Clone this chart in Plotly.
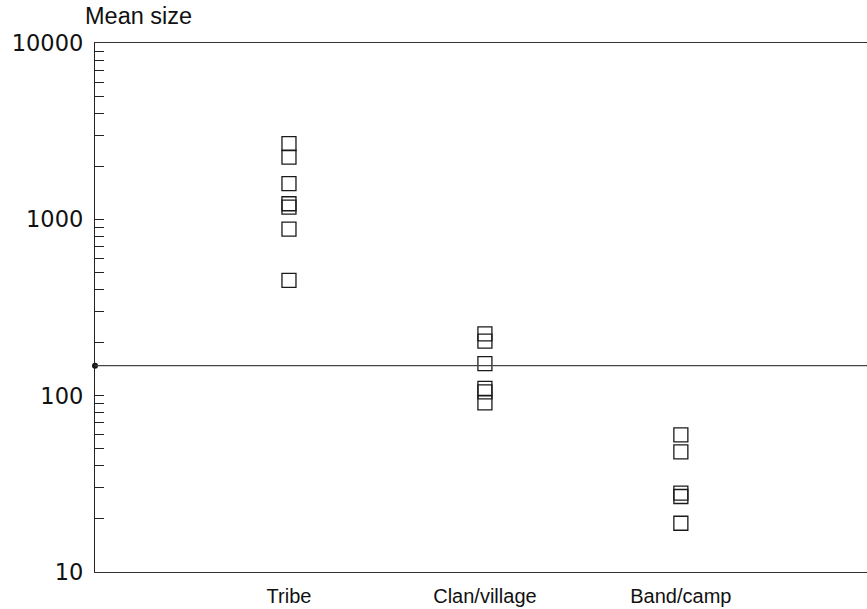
import plotly.graph_objects as go

# Group sizes by social level
categories = ["Tribe", "Clan/village", "Band/camp"]
tribe = [2685, 2256, 1592, 1226, 1172, 881, 451]
clan_village = [224, 204, 152, 110, 105, 91]
band_camp = [60, 48, 28, 26.8, 18.9]
dunbar = 148

y_decades = [10, 100, 1000, 10000]
y_ticks = [m * d for d in [10, 100, 1000] for m in range(1, 10)] + [10000]
y_ticktext = [str(v) if v in y_decades else "" for v in y_ticks]

x_range = [0.01, 3.95]

fig = go.Figure()

for pos, vals in enumerate([tribe, clan_village, band_camp], start=1):
    fig.add_trace(go.Scatter(
        x=[pos] * len(vals),
        y=vals,
        mode="markers",
        marker=dict(symbol="square-open", size=14, color="#1a1a1a",
                    line=dict(width=1.3, color="#1a1a1a")),
        showlegend=False,
        hoverinfo="y",
    ))

# reference line at ~150 with a dot where it meets the axis
fig.add_shape(type="line", xref="paper", x0=0, x1=1, yref="y",
              y0=dunbar, y1=dunbar, line=dict(color="#444", width=1.3))
fig.add_trace(go.Scatter(
    x=[x_range[0]], y=[dunbar], mode="markers",
    marker=dict(symbol="circle", size=6, color="#111"),
    cliponaxis=False, showlegend=False, hoverinfo="skip",
))

fig.add_annotation(
    text="Mean size", xref="paper", yref="paper",
    x=-0.015, y=1.051, xanchor="left", yanchor="middle",
    showarrow=False, font=dict(family="Liberation Sans", size=23.5, color="#111"),
)

fig.update_xaxes(
    range=x_range,
    tickvals=[1, 2, 3],
    ticktext=categories,
    ticks="",
    showline=True, mirror=True, linecolor="#333", linewidth=1.3,
    showgrid=False, zeroline=False,
    tickfont=dict(family="Liberation Sans", size=20, color="#111"),
    ticklabelstandoff=6,
)
fig.update_yaxes(
    type="log",
    range=[1, 4],
    tickvals=y_ticks,
    ticktext=y_ticktext,
    ticks="inside", ticklen=9, tickwidth=1.2, tickcolor="#222",
    showline=True, linecolor="#222", linewidth=1.4,
    showgrid=False, zeroline=False,
    tickfont=dict(family="DejaVu Sans", size=22.5, color="#111"),
    ticklabelstandoff=6,
)

fig.update_layout(
    width=867, height=609,
    margin=dict(l=95, r=0, t=43, b=37),
    plot_bgcolor="white", paper_bgcolor="white",
)

# drop the default body margin so the figure fills the window exactly
fig.write_html(
    "out.html",
    config={"displayModeBar": False},
    post_script="document.body.style.margin='0';",
)
